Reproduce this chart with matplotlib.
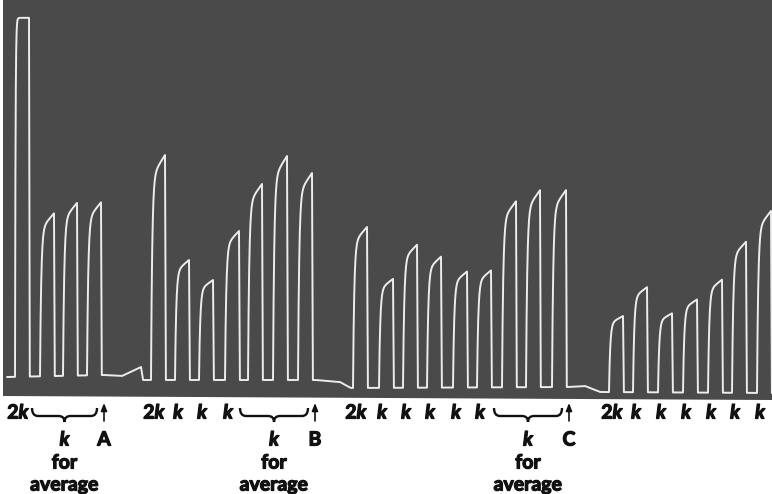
import numpy as np
import matplotlib
matplotlib.use("Agg")
import matplotlib.pyplot as plt
from matplotlib.path import Path
from matplotlib.patches import PathPatch, Polygon
import matplotlib.patheffects as pe

# ---- data read from the record (time in px-units, pen level in px-units) ----
onsets = [15, 40, 63, 87,
          151, 175, 199, 225, 248, 273, 298,
          353, 379, 403, 427, 453, 477, 502, 526, 552,
          609, 633, 658, 683, 708, 732, 757]
amplitudes = [359, 163, 173, 173,
              225, 120, 100, 149, 196, 224, 207,
              161, 109, 143, 131, 116, 117, 186, 197, 197,
              76, 105, 79, 93, 113, 151, 182]
doses = ["2k", "k", "k", "k",
         "2k", "k", "k", "k", "k", "k", "k",
         "2k", "k", "k", "k", "k", "k", "k", "k", "k",
         "2k", "k", "k", "k", "k", "k", "k"]
# baseline drift of the record
base_t = [7, 104, 122, 137, 141, 143, 316, 340, 347, 351, 568, 585, 600, 772]
base_y = [117, 119, 118, 125, 127, 114, 114, 112, 108, 106, 107, 108, 102, 101]
# groups of responses taken for the average
avg_labels = ["A", "B", "C"]
avg_groups = [[1, 2, 3], [8, 9, 10], [17, 18, 19]]

FONT = "Lato"

# ---- figure ----
W, H = 772, 494
fig = plt.figure(figsize=(W / 100, H / 100), dpi=100)
ax = fig.add_axes([0, 0, 1, 1])
ax.set_xlim(0, W)
ax.set_ylim(0, H)
ax.axis("off")
fig.patch.set_facecolor("white")

# dark recording panel
panel = Polygon([(3, 98), (772, 94), (772, 494), (3, 494)], closed=True,
                facecolor="#4a4a4a", edgecolor="none", zorder=0)
ax.add_patch(panel)

# ---- trace ----
PW = 14.0
t = np.arange(base_t[0], W + 0.01, 0.1)
y = np.interp(t, base_t, base_y)
for i, (on, amp) in enumerate(zip(onsets, amplitudes)):
    b = np.interp(on, base_t, base_y)
    m = (t >= on) & (t <= on + PW)
    s = t[m] - on
    if i == 0:
        shape = 1 - np.exp(-s / 0.5)
    else:
        shape = (1 - np.exp(-s / 1.2)) * (1 - 0.10 * (1 - s / PW))
    y[m] = b + amp * shape
    m2 = (t > on + PW) & (t < on + PW + 0.8)
    frac = (t[m2] - on - PW) / 0.8
    bb = np.interp(t[m2], base_t, base_y)
    y[m2] = (b + amp) * (1 - frac) + bb * frac
ax.plot(t, y, color="#ececec", lw=1.4, solid_joinstyle="round",
        solid_capstyle="round", zorder=2, clip_path=panel)

# ---- labels ----
fs = 14
row1, row2, row3, row4 = 81, 54, 31, 9
in_avg = {j for g in avg_groups for j in g}
heavy = [pe.withStroke(linewidth=0.9, foreground="#111111")]
TXT = dict(fontsize=fs, fontweight="bold", family=FONT, color="#111111",
           va="center", path_effects=heavy)


def dose_label(x, lab):
    if lab == "2k":
        ax.text(x + 0.5, row1, "2", ha="right", **TXT)
        ax.text(x + 0.5, row1, "k", ha="left", fontstyle="italic", **TXT)
    else:
        ax.text(x, row1, "k", ha="center", fontstyle="italic", **TXT)


for i, (on, lab) in enumerate(zip(onsets, doses)):
    if i in in_avg:
        continue
    dose_label(on + 3, lab)


def brace(x0, x1, ytop=86, yline=78, ytip=72):
    xc = (x0 + x1) / 2
    verts = [(x0, ytop), (x0, yline), (x0 + 6, yline),
             (xc - 6, yline), (xc, yline), (xc, ytip),
             (xc, yline), (xc + 6, yline),
             (x1 - 6, yline), (x1, yline), (x1, ytop)]
    codes = [Path.MOVETO, Path.CURVE3, Path.CURVE3,
             Path.LINETO, Path.CURVE3, Path.CURVE3,
             Path.CURVE3, Path.CURVE3,
             Path.LINETO, Path.CURVE3, Path.CURVE3]
    ax.add_patch(PathPatch(Path(verts, codes), facecolor="none",
                           edgecolor="#111111", lw=1.7, zorder=3))
    return xc


for lab, g in zip(avg_labels, avg_groups):
    x0 = onsets[g[0]] - 8
    x1 = onsets[g[-1]] + 10
    xc = brace(x0, x1)
    xa = onsets[g[-1]] + 17
    ax.annotate("", xy=(xa, 91), xytext=(xa, 73),
                arrowprops=dict(arrowstyle="-|>,head_length=0.45,head_width=0.18",
                                color="#111111", lw=1.2, shrinkA=0, shrinkB=0))
    ax.text(xa, row2, lab, ha="center", **TXT)
    ax.text(xc, row2, "k", ha="center", fontstyle="italic", **TXT)
    ax.text(xc, row3, "for", ha="center", **TXT)
    ax.text(xc, row4, "average", ha="center", **TXT)

fig.savefig("out.png", dpi=100, facecolor="white")
